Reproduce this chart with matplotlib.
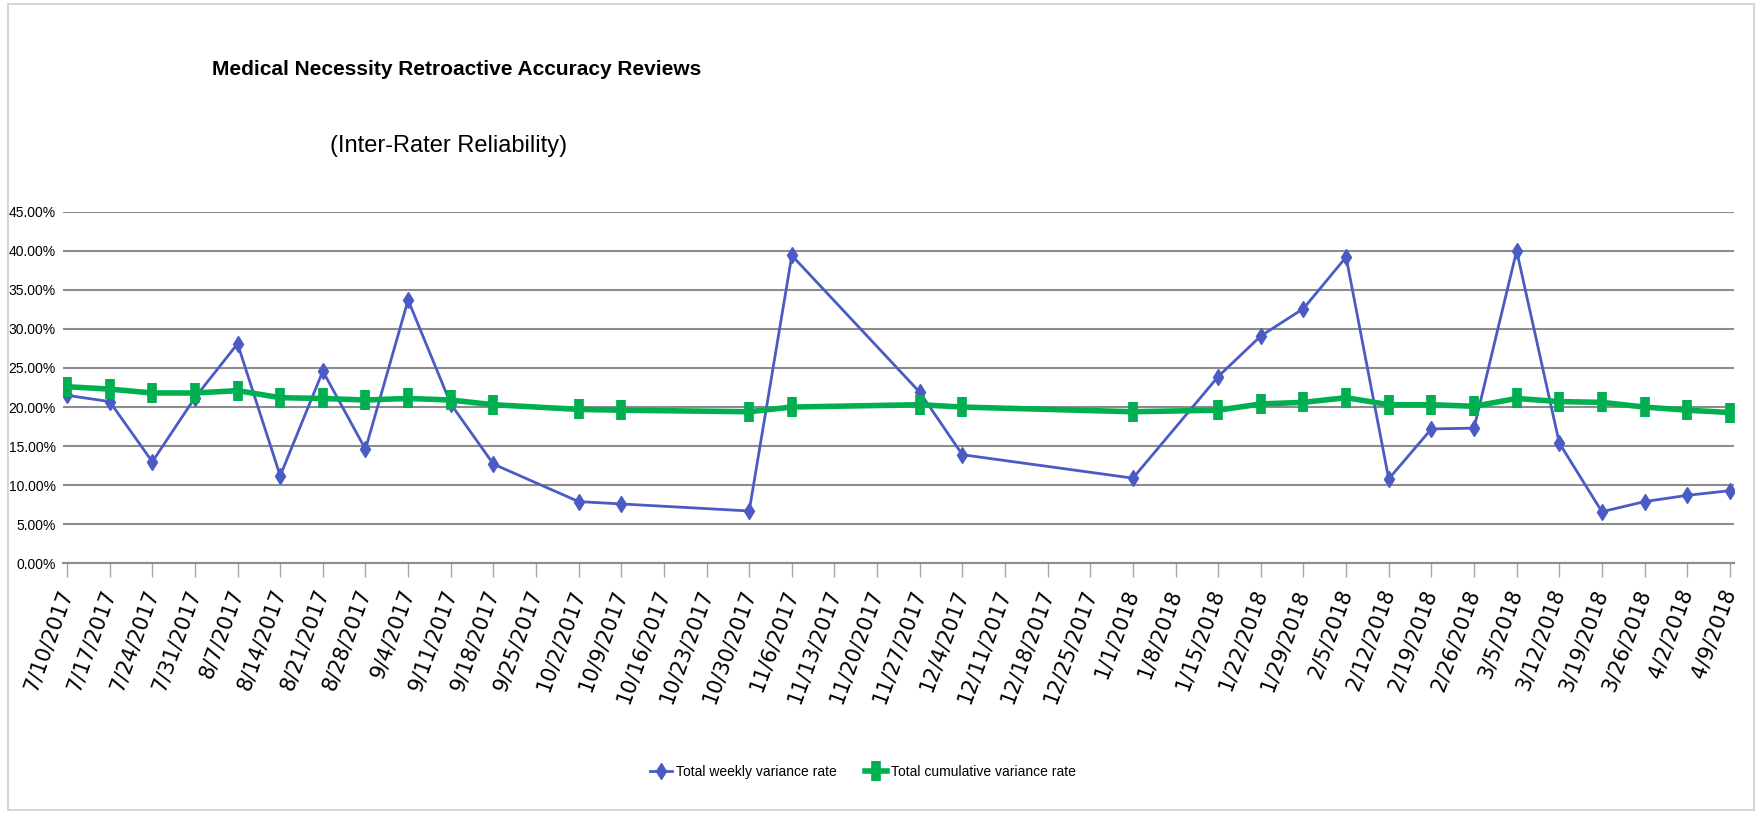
import numpy as np
import matplotlib
matplotlib.use('Agg')
import matplotlib.pyplot as plt
from matplotlib.patches import Rectangle

plt.rcParams['font.family'] = ['Liberation Sans', 'DejaVu Sans']

# Dados (semanas e taxas em %).
semanas = ['7/10/2017', '7/17/2017', '7/24/2017', '7/31/2017', '8/7/2017', '8/14/2017',
           '8/21/2017', '8/28/2017', '9/4/2017', '9/11/2017', '9/18/2017', '9/25/2017',
           '10/2/2017', '10/9/2017', '10/16/2017', '10/23/2017', '10/30/2017', '11/6/2017',
           '11/13/2017', '11/20/2017', '11/27/2017', '12/4/2017', '12/11/2017', '12/18/2017',
           '12/25/2017', '1/1/2018', '1/8/2018', '1/15/2018', '1/22/2018', '1/29/2018',
           '2/5/2018', '2/12/2018', '2/19/2018', '2/26/2018', '3/5/2018', '3/12/2018',
           '3/19/2018', '3/26/2018', '4/2/2018', '4/9/2018']

nan = np.nan
semanal = [21.5, 20.7, 13.0, 21.2, 28.1, 11.2, 24.6, 14.6, 33.7, 20.4, 12.7, nan,
           7.9, 7.6, nan, nan, 6.7, 39.4, nan, nan, 21.9, 13.9, nan, nan,
           nan, 10.9, nan, 23.9, 29.1, 32.6, 39.2, 10.8, 17.2, 17.3, 40.0, 15.4,
           6.6, 7.9, 8.7, 9.3]

acumulada = [22.6, 22.3, 21.8, 21.8, 22.1, 21.2, 21.1, 20.9, 21.1, 20.9, 20.3, nan,
             19.7, 19.6, nan, nan, 19.4, 20.0, nan, nan, 20.3, 20.0, nan, nan,
             nan, 19.4, nan, 19.6, 20.4, 20.6, 21.2, 20.3, 20.3, 20.1, 21.1, 20.7,
             20.6, 20.0, 19.6, 19.3]

yticks = [0, 5, 10, 15, 20, 25, 30, 35, 40, 45]

cor_azul = '#4a5bc4'
cor_verde = '#00b050'

fig = plt.figure(figsize=(17.58, 8.13), dpi=100)
ax = fig.add_axes([0.0357, 0.3071, 0.9507, 0.4325])

x = np.arange(len(semanas))
s = np.array(semanal)
c = np.array(acumulada)
ms = ~np.isnan(s)
mc = ~np.isnan(c)

# Linhas (Excel liga os pontos por cima das lacunas).
ax.plot(x[ms], s[ms], color=cor_azul, lw=2.0, marker='d', ms=8, mew=1,
        label='Total weekly variance rate', zorder=3)
ax.plot(x[mc], c[mc], color=cor_verde, lw=4.0, marker='|', ms=14, mew=7,
        label='Total cumulative variance rate', zorder=4)

ax.set_xlim(-0.1, 39.1)
ax.set_ylim(0, 45)
ax.set_yticks(yticks)
ax.set_yticklabels(['{:.2f}%'.format(v) for v in yticks], fontsize=10)
ax.set_xticks(x)
ax.set_xticklabels(semanas, rotation=70, ha='right', va='center',
                   rotation_mode='anchor', fontsize=15, family='DejaVu Sans')
ax.tick_params(axis='y', length=0, pad=5)
ax.tick_params(axis='x', length=10, width=1, color='#a6a6a6', pad=9)

ax.grid(axis='y', color='#8c8c8c', lw=1.5)
ax.set_axisbelow(True)
for lado in ['top', 'right', 'left']:
    ax.spines[lado].set_visible(False)
ax.spines['bottom'].set_color('#8c8c8c')
ax.spines['bottom'].set_linewidth(1.5)

# Titulos.
fig.text(0.26, 0.914, 'Medical Necessity Retroactive Accuracy Reviews',
         fontsize=15, fontweight='bold', ha='center', va='center')
fig.text(0.255, 0.82, '(Inter-Rater Reliability)', fontsize=17,
         ha='center', va='center')

# Legenda.
fig.legend(loc='center', bbox_to_anchor=(0.491, 0.051), ncol=2, frameon=False,
           fontsize=10, handlelength=1.6, columnspacing=2.0, handletextpad=0.3)

# Moldura do grafico.
fig.add_artist(Rectangle((8 / 1758, 3 / 813), 1746 / 1758, 806 / 813,
                         transform=fig.transFigure, fill=False,
                         edgecolor='#cfcfcf', lw=1.2))

fig.savefig('out.png', dpi=100)
